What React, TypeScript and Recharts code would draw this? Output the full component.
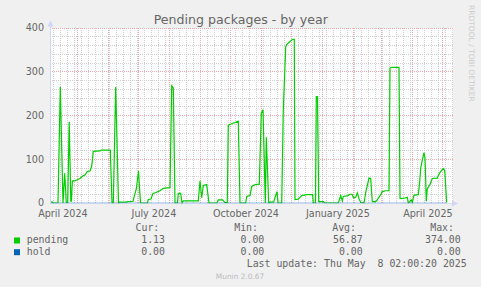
import React from "react";
import { LineChart, Line, XAxis, YAxis, ReferenceLine } from "recharts";

// graph starts 400 days before "Thu May 8 02:00:20 2025"; x is days since then
const T0 = Date.UTC(2024, 3, 3, 2);
const dayOf = (y: number, m: number, d = 1) => (Date.UTC(y, m, d) - T0) / 86400000;
const X_MAX = 403;

// pending packages, [day, value]
const pending: [number, number][] = [
  [0, 2], [2.5, 2], [3, 0], [8, 0], [10.3, 265], [13, 0], [14.7, 68], [16.3, 1],
  [17.7, 1], [19.2, 185], [20.8, 4], [21.5, 4], [22.3, 50], [25, 51], [27.3, 53],
  [30, 56], [32.3, 61], [35, 64], [37.3, 72], [40, 73], [41.7, 84], [43.3, 118],
  [50, 119], [51.7, 121], [60.3, 121], [62, 0], [63.3, 0], [65.7, 265], [68.5, 0],
  [69.7, 2], [76.3, 2], [78, 3], [83, 4], [84.7, 19], [86.3, 32], [88.5, 73],
  [90.5, 0], [97.5, 0], [98.3, 8], [101, 9], [103, 22], [106, 24], [110, 28],
  [113, 33], [115, 34], [120, 35], [121.7, 268], [123.3, 263], [125, 0], [127.5, 0],
  [128.3, 22], [130.7, 22], [132, 0], [133.3, 5], [148.3, 5], [150, 51], [151.7, 12],
  [153.3, 40], [156.7, 42], [159, 0], [167, 0], [168.3, 7], [172.5, 7], [175, 1],
  [177.3, 1], [178.3, 178], [181.7, 181], [185, 184], [188.3, 187], [190, 0],
  [195.7, 0], [196.7, 15], [200, 17], [201.7, 38], [205, 42], [209.3, 43],
  [211.3, 205], [213, 213], [215.3, 0], [216.3, 150], [218.7, 0], [220, 2],
  [223.7, 2], [225.3, 15], [227, 26], [228, 0], [231.7, 0], [233.3, 213],
  [235.7, 357], [236.7, 362], [240, 369], [242.7, 374], [244.3, 374], [245, 8],
  [248.3, 9], [251.7, 17], [256.7, 19], [262.7, 19], [263.3, 0], [265.5, 0],
  [266.3, 243], [267.5, 243], [268.7, 3], [273.5, 3], [274.5, 0], [288, 0],
  [288.7, 3], [290.7, 17], [292.3, 5], [293.3, 15], [298, 17], [300, 20], [302, 20],
  [303.5, 12], [305.7, 13], [307.3, 23], [309, 10], [310.7, 1], [314, 0],
  [315.7, 24], [319, 57], [320.7, 56], [322.3, 3], [325.7, 3], [327.3, 7],
  [330.7, 19], [332.3, 26], [335.7, 28], [339, 28], [340, 308], [341.3, 310],
  [349, 310], [350, 11], [352.3, 10], [355.7, 12], [357.3, 13], [358.3, 0],
  [359.7, 3], [361.3, 7], [362.3, 1], [364, 18], [368.3, 19], [369.7, 49],
  [370.7, 80], [372.3, 98], [374, 115], [375, 103], [376.3, 4], [377.3, 32],
  [380, 43], [382.3, 56], [387.3, 57], [389, 66], [390.7, 72], [393.3, 79],
  [394.7, 74], [396.7, 1.13],
];
const hold: [number, number][] = [[0, 0], [396.7, 0]];

const yTicks = [0, 100, 200, 300, 400];
const yMinor = [20, 40, 60, 80, 120, 140, 160, 180, 220, 240, 260, 280, 320, 340, 360, 380];

const labelNames = ["April 2024", "July 2024", "October 2024", "January 2025", "April 2025"];
const labelMonths: [number, number][] = [[2024, 3], [2024, 6], [2024, 9], [2025, 0], [2025, 3]];
const labelDays = labelMonths.map(([y, m]) => dayOf(y, m) + 15);

const legendHead = ["Cur:", "Min:", "Avg:", "Max:"];
const legendRows = [
  { name: "pending", color: "#00cc00", values: ["1.13", "0.00", "56.87", "374.00"] },
  { name: "hold", color: "#0066b3", values: ["0.00", "0.00", "0.00", "0.00"] },
];

// month lines (major) and sunday lines (minor)
const monthLines: number[] = [];
for (let i = 0; i < 15; i++) {
  const d = dayOf(2024, 3 + i);
  if (d > 0 && d < X_MAX) monthLines.push(d);
}
const weekLines: number[] = [];
for (let d = dayOf(2024, 3, 7); d < X_MAX; d += 7) {
  if (!monthLines.some((m) => Math.abs(m - d) < 0.5)) weekLines.push(d);
}

const toRows = (s: [number, number][]) => s.map(([d, v]) => ({ d, v }));

const FONT = "'DejaVu Sans', sans-serif";
const MONO = "'DejaVu Sans Mono', monospace";
const TEXT = "#666666";
const AXIS = "#CFD6F8";
const MINOR = "#d2d2d2";
const MAJOR = "#f0acac";

export default function App() {
  const colEnds = [165, 264.3, 362.7, 460.7];
  const headEnds = [159.3, 258, 356, 454];
  return (
    <div style={{ position: "fixed", left: 0, top: 0, width: 481, height: 287, background: "#f0f0f0" }}>
      <div style={{ position: "absolute", left: 50, top: 28, width: 403, height: 175, background: "#fff" }} />
      <div style={{ position: "absolute", left: 0, top: 0 }}>
        <LineChart width={481} height={287} margin={{ top: 28, right: 28, bottom: 0, left: 0 }}>
          <XAxis
            dataKey="d"
            type="number"
            domain={[0, X_MAX]}
            allowDataOverflow
            ticks={labelDays}
            interval={0}
            tickFormatter={(v: number) => labelNames[labelDays.indexOf(v)] ?? ""}
            axisLine={false}
            tickLine={false}
            tickSize={5}
            height={84}
            tick={{ fill: TEXT, fontSize: 9.6, fontFamily: FONT }}
          />
          <YAxis
            type="number"
            domain={[0, 400]}
            ticks={yTicks}
            interval={0}
            axisLine={false}
            tickLine={false}
            tickSize={6}
            tickMargin={0}
            width={50}
            tick={{ fill: TEXT, fontSize: 9.6, fontFamily: FONT }}
          />
          {yMinor.map((y) => (
            <ReferenceLine key={"ym" + y} y={y} stroke={MINOR} strokeDasharray="1 1" shapeRendering="crispEdges" />
          ))}
          {weekLines.map((x) => (
            <ReferenceLine key={"xm" + x} x={x} stroke={MINOR} strokeDasharray="1 1" shapeRendering="crispEdges" />
          ))}
          {yTicks.slice(1).map((y) => (
            <ReferenceLine key={"yM" + y} y={y} stroke={MAJOR} strokeDasharray="1 1" shapeRendering="crispEdges" />
          ))}
          {monthLines.map((x) => (
            <ReferenceLine key={"xM" + x} x={x} stroke={MAJOR} strokeDasharray="1 1" shapeRendering="crispEdges" />
          ))}
          <Line
            data={toRows(pending)}
            dataKey="v"
            type="linear"
            stroke="#00cc00"
            strokeWidth={1.2}
            dot={false}
            activeDot={false}
            isAnimationActive={false}
          />
          <Line
            data={toRows(hold)}
            dataKey="v"
            type="linear"
            stroke="#0066b3"
            strokeOpacity={0.45}
            strokeWidth={1}
            dot={false}
            activeDot={false}
            isAnimationActive={false}
          />
        </LineChart>
      </div>
      <svg width={481} height={287} style={{ position: "absolute", left: 0, top: 0, pointerEvents: "none" }}>
        <line x1={50.5} y1={203} x2={50.5} y2={24} stroke={AXIS} />
        <polygon points="47.5,26.5 53.5,26.5 50.5,20.5" fill={AXIS} />
        <line x1={50} y1={203.5} x2={453} y2={203.5} stroke={AXIS} strokeOpacity={0.6} />
        <polygon points="452,200.5 452,206.5 458,203.5" fill={AXIS} />
        <text x={240.8} y={24} textAnchor="middle" fill={TEXT} fontSize={12.6} fontFamily={FONT}>
          Pending packages - by year
        </text>
        <text
          x={0}
          y={0}
          transform="translate(469, 5) rotate(90)"
          fill="#cccccc"
          fontSize={7.5}
          fontFamily={FONT}
        >
          RRDTOOL / TOBI OETIKER
        </text>
        {legendHead.map((h, i) => (
          <text key={h} x={headEnds[i]} y={231} textAnchor="end" fill={TEXT} fontSize={9.9} fontFamily={MONO}>
            {h}
          </text>
        ))}
        {legendRows.map((r, ri) => (
          <g key={r.name}>
            <rect x={14} y={237.5 + ri * 11.7} width={6} height={6} fill={r.color} />
            <text x={26.7} y={243.3 + ri * 11.7} fill={TEXT} fontSize={9.9} fontFamily={MONO}>
              {r.name}
            </text>
            {r.values.map((v, i) => (
              <text key={i} x={colEnds[i]} y={243.3 + ri * 11.7} textAnchor="end" fill={TEXT} fontSize={9.9} fontFamily={MONO}>
                {v}
              </text>
            ))}
          </g>
        ))}
        <text x={466.7} y={266.5} textAnchor="end" fill={TEXT} fontSize={9.9} fontFamily={MONO} style={{ whiteSpace: "pre" }}>
          {"Last update: Thu May  8 02:00:20 2025"}
        </text>
        <text x={240} y={278.5} textAnchor="middle" fill="#bbbbbb" fontSize={7.4} fontFamily={FONT}>
          Munin 2.0.67
        </text>
      </svg>
    </div>
  );
}
